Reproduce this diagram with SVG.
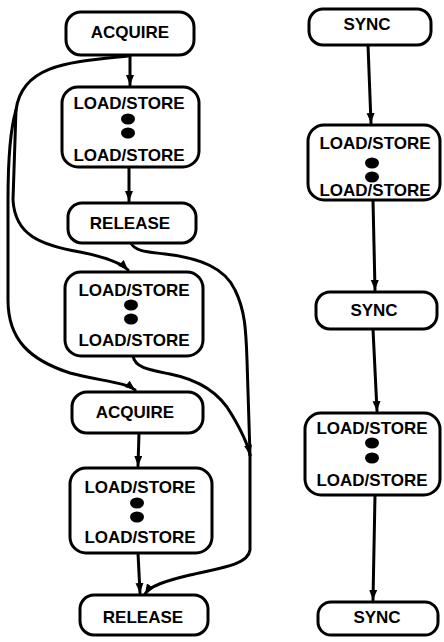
<svg xmlns="http://www.w3.org/2000/svg" width="444" height="642" viewBox="0 0 444 642">
<style>
  .box { fill: #fff; stroke: #000; stroke-width: 3; }
  .lbl { font-family: "Liberation Sans", Arial, sans-serif; font-weight: bold; font-size: 17px; text-anchor: middle; fill: #000; }
  .edge { fill: none; stroke: #000; stroke-width: 3; stroke-linecap: round; }
  .dot { fill: #000; }
</style>
<defs>
  <marker id="arr" markerUnits="userSpaceOnUse" markerWidth="11" markerHeight="9" refX="10" refY="4" orient="auto">
    <path d="M0,0 L10,4 L0,8 z" fill="#000"/>
  </marker>
</defs>
<rect width="444" height="642" fill="#fff"/>

<g id="connectors">
  <path class="edge" d="M130,55 L130,85" marker-end="url(#arr)"/>
  <path class="edge" d="M129,167 L129,201" marker-end="url(#arr)"/>
  <path class="edge" d="M139,433 L138,466" marker-end="url(#arr)"/>
  <path class="edge" d="M138,553 L140,593" marker-end="url(#arr)"/>
  <path class="edge" d="M128,56 C 70,62 22,64 16,110 L 13,200 C 15,235 40,245 80,252 C 105,257 120,262 128,270" marker-end="url(#arr)"/>
  <path class="edge" d="M16,110 C 10,130 8,160 8,200 L 8,300 C 8,340 30,360 70,373 C 100,381 125,382 135,390" marker-end="url(#arr)"/>
  <path class="edge" d="M131,243 C 135,252 150,252 165,254 C 200,258 225,268 235,290 C 245,310 246,330 247,360 L 250,455"/>
  <path class="edge" d="M133,356 C 135,368 150,370 170,374 C 200,380 220,393 232,415 C 242,432 248,445 250,455" marker-end="url(#arr)"/>
  <path class="edge" d="M250,455 L 250,550 C 248,565 220,568 190,575 C 165,581 150,586 145,594" marker-end="url(#arr)"/>
  <path class="edge" d="M368,45 L371,123" marker-end="url(#arr)"/>
  <path class="edge" d="M373,200 L375,290" marker-end="url(#arr)"/>
  <path class="edge" d="M373,329 L377,411" marker-end="url(#arr)"/>
  <path class="edge" d="M375,495 L373,600" marker-end="url(#arr)"/>
</g>

<g id="acquire1">
  <rect class="box" x="66" y="12" width="128" height="43" rx="15"/>
  <text class="lbl" x="130" y="38">ACQUIRE</text>
</g>
<g id="ls1">
  <rect class="box" x="62" y="87" width="137" height="80" rx="16"/>
  <text class="lbl" x="129" y="109">LOAD/STORE</text>
  <ellipse class="dot" cx="128" cy="119" rx="7" ry="5.5"/>
  <ellipse class="dot" cx="128" cy="133" rx="7" ry="5.5"/>
  <text class="lbl" x="129" y="161">LOAD/STORE</text>
</g>
<g id="release1">
  <rect class="box" x="68" y="203" width="128" height="40" rx="14"/>
  <text class="lbl" x="130" y="229">RELEASE</text>
</g>
<g id="ls2">
  <rect class="box" x="65" y="272" width="138" height="84" rx="16"/>
  <text class="lbl" x="134" y="296">LOAD/STORE</text>
  <ellipse class="dot" cx="131" cy="305" rx="7" ry="5.5"/>
  <ellipse class="dot" cx="131" cy="319" rx="7" ry="5.5"/>
  <text class="lbl" x="134" y="346">LOAD/STORE</text>
</g>
<g id="acquire2">
  <rect class="box" x="72" y="392" width="131" height="41" rx="15"/>
  <text class="lbl" x="135" y="418">ACQUIRE</text>
</g>
<g id="ls3">
  <rect class="box" x="70" y="468" width="142" height="85" rx="16"/>
  <text class="lbl" x="140" y="493">LOAD/STORE</text>
  <ellipse class="dot" cx="137" cy="503" rx="7" ry="5.5"/>
  <ellipse class="dot" cx="137" cy="517" rx="7" ry="5.5"/>
  <text class="lbl" x="140" y="543">LOAD/STORE</text>
</g>
<g id="release2">
  <rect class="box" x="80" y="595" width="128" height="40" rx="14"/>
  <text class="lbl" x="143" y="623">RELEASE</text>
</g>

<g id="sync1">
  <rect class="box" x="309" y="9" width="122" height="36" rx="14"/>
  <text class="lbl" x="367" y="30">SYNC</text>
</g>
<g id="lsr1">
  <rect class="box" x="308" y="125" width="132" height="75" rx="16"/>
  <text class="lbl" x="375" y="149">LOAD/STORE</text>
  <ellipse class="dot" cx="372" cy="163" rx="7" ry="5.5"/>
  <ellipse class="dot" cx="372" cy="177" rx="7" ry="5.5"/>
  <text class="lbl" x="375" y="196">LOAD/STORE</text>
</g>
<g id="sync2">
  <rect class="box" x="316" y="292" width="121" height="37" rx="14"/>
  <text class="lbl" x="374" y="316">SYNC</text>
</g>
<g id="lsr2">
  <rect class="box" x="305" y="413" width="135" height="82" rx="16"/>
  <text class="lbl" x="372" y="434">LOAD/STORE</text>
  <ellipse class="dot" cx="372" cy="443" rx="7" ry="5.5"/>
  <ellipse class="dot" cx="372" cy="458" rx="7" ry="5.5"/>
  <text class="lbl" x="372" y="486">LOAD/STORE</text>
</g>
<g id="sync3">
  <rect class="box" x="318" y="602" width="120" height="33" rx="13"/>
  <text class="lbl" x="377" y="623">SYNC</text>
</g>
</svg>
